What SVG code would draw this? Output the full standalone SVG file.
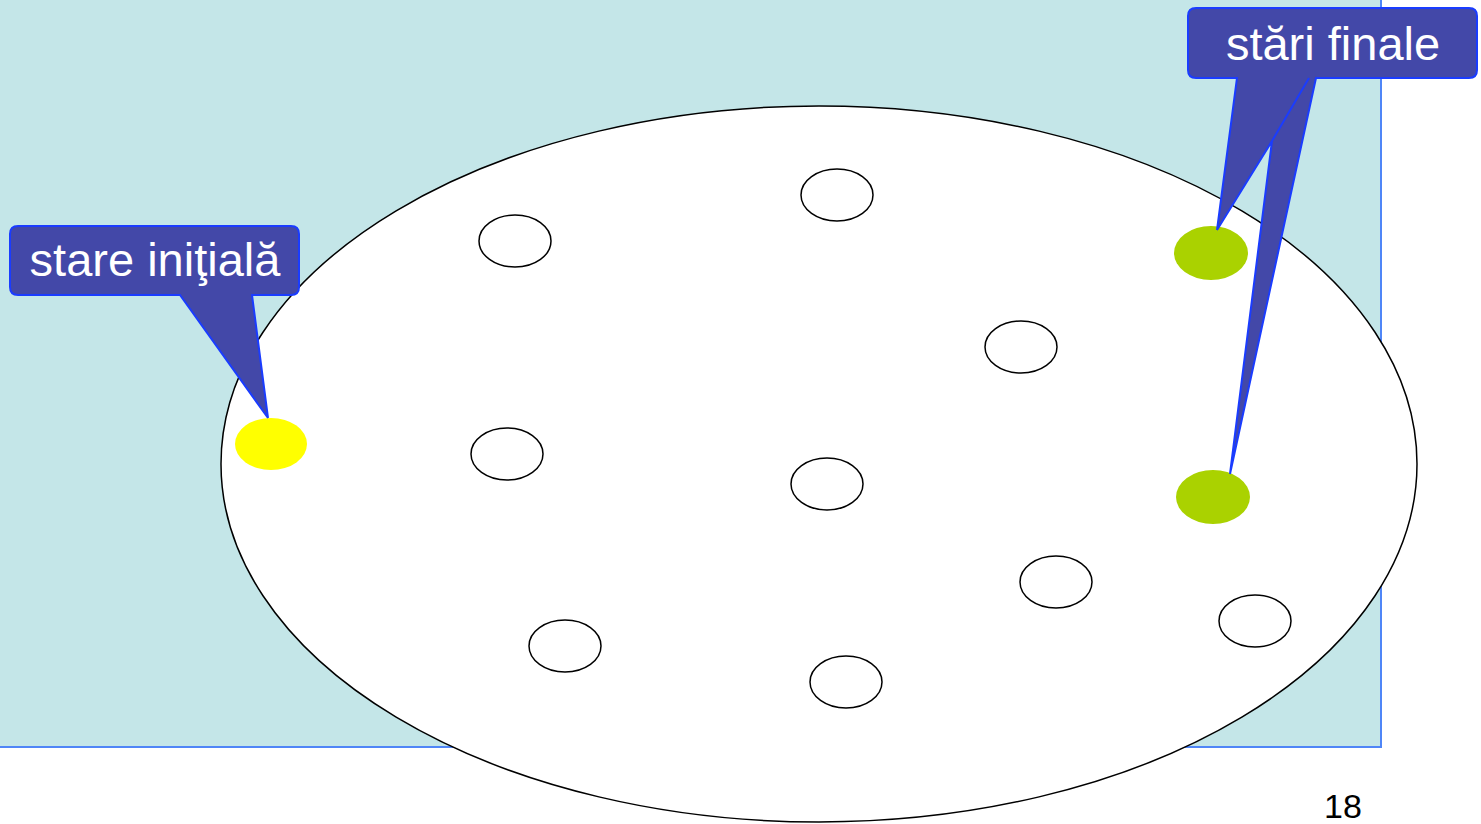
<svg xmlns="http://www.w3.org/2000/svg" width="1481" height="824" viewBox="0 0 1481 824">
<style>
.st{fill:#fff;stroke:#000;stroke-width:1.5}
.co{fill:#4348A8;stroke:#1A3CFF;stroke-width:2;stroke-linejoin:miter}
.lbl{font-family:"Liberation Sans",Arial,sans-serif;font-size:47px;fill:#fff;text-anchor:middle}
</style>
<rect x="0" y="0" width="1381" height="747" fill="#C4E6E8"/>
<path d="M0,747 H1381 V0" fill="none" stroke="#4F86F7" stroke-width="2"/>
<ellipse id="universe" cx="819" cy="464" rx="598" ry="358" fill="#fff" stroke="#000" stroke-width="1.5"/>
<g id="states">
<ellipse class="st" cx="515" cy="241" rx="36" ry="26"/>
<ellipse class="st" cx="837" cy="195" rx="36" ry="26"/>
<ellipse class="st" cx="1021" cy="347" rx="36" ry="26"/>
<ellipse class="st" cx="507" cy="454" rx="36" ry="26"/>
<ellipse class="st" cx="827" cy="484" rx="36" ry="26"/>
<ellipse class="st" cx="1056" cy="582" rx="36" ry="26"/>
<ellipse class="st" cx="1255" cy="621" rx="36" ry="26"/>
<ellipse class="st" cx="565" cy="646" rx="36" ry="26"/>
<ellipse class="st" cx="846" cy="682" rx="36" ry="26"/>
</g>
<g id="initial"><ellipse cx="271" cy="444" rx="36" ry="26" fill="#FFFF00"/></g>
<g id="final1"><ellipse cx="1211" cy="253" rx="37" ry="27" fill="#AAD200"/></g>
<g id="final2"><ellipse cx="1213" cy="497" rx="37" ry="27" fill="#AAD200"/></g>
<g id="callout-initial">
<path class="co" d="M18,226 H291 Q299,226 299,234 V287 Q299,295 291,295 H252 L268,418 L180,295 H18 Q10,295 10,287 V234 Q10,226 18,226 Z"/>
<text class="lbl" x="155" y="276">stare iniţială</text>
</g>
<g id="callout-final">
<path class="co" d="M1196,8 H1469 Q1477,8 1477,16 V70 Q1477,78 1469,78 H1316 L1230,474 L1272,141 L1217,230 L1237,78 H1196 Q1188,78 1188,70 V16 Q1188,8 1196,8 Z"/>
<line x1="1272" y1="141" x2="1309" y2="78" stroke="#1A3CFF" stroke-width="2"/>
<text class="lbl" x="1333" y="60">stări finale</text>
</g>
<text x="1343" y="818" font-family="Liberation Sans,Arial,sans-serif" font-size="34" text-anchor="middle" fill="#000">18</text>
</svg>
